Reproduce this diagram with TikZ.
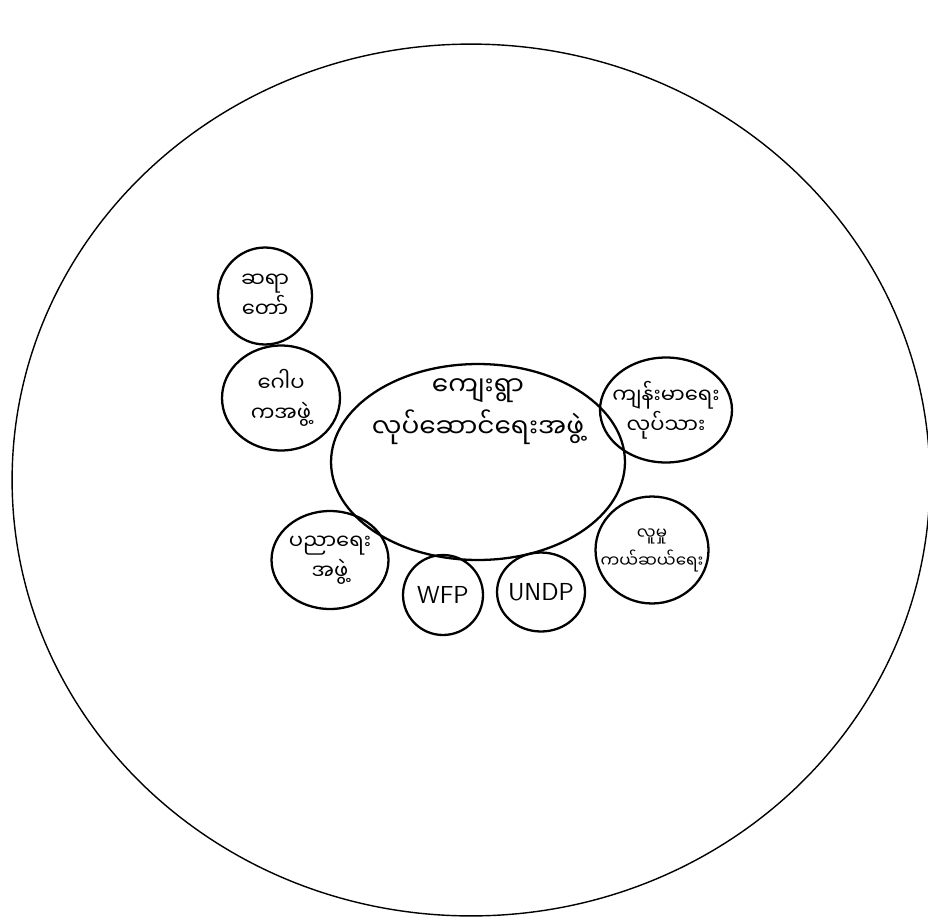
\documentclass[tikz,border=0pt]{standalone}
\usepackage{fontspec}
\newfontfamily\myan[Script=Myanmar]{Noto Sans Myanmar UI}
\usetikzlibrary{shapes.geometric}

\begin{document}
\begin{tikzpicture}[
  x=0.02cm, y=-0.02cm,
  group/.style={draw, ellipse, line width=1.3pt, inner sep=0pt},
  txt/.style={label={[font=\myan\fontsize{12}{17}\selectfont, align=center]center:#1}},
  snug/.style={label={[font=\myan\fontsize{9.5}{16}\selectfont, align=center]center:#1}},
  agency/.style={label={[font=\sffamily\fontsize{14}{16}\selectfont]center:#1}},
]
  \useasboundingbox (0,0) rectangle (928,919);

  % Village
  \draw[line width=0.8pt] (471,480) ellipse [x radius=9.18cm, y radius=8.72cm];

  % Centre
  \node[group, minimum width=5.88cm, minimum height=3.92cm,
        label={[font=\myan\fontsize{15}{24}\selectfont, align=center, yshift=1.0cm]center:ကျေးရွာ\\လုပ်ဆောင်ရေးအဖွဲ့}]
        (vdc) at (478,462) {};

  % Groups round it
  \node[group, minimum width=1.88cm, minimum height=1.94cm, txt={ဆရာ\\တော်}]           (monk)   at (265,296) {};
  \node[group, minimum width=2.36cm, minimum height=2.1cm,  txt={ဂေါပ\\ကအဖွဲ့}]        (gopaka) at (281,398) {};
  \node[group, minimum width=2.64cm, minimum height=2.1cm,  txt={ကျန်းမာရေး\\လုပ်သား}]  (health) at (666,410) {};
  \node[group, minimum width=2.26cm, minimum height=2.14cm, snug={လူမှု\\ကယ်ဆယ်ရေး}]   (social) at (652,550) {};
  \node[group, minimum width=2.34cm, minimum height=1.96cm, txt={ပညာရေး\\အဖွဲ့}]        (educ)   at (330,560) {};
  \node[group, minimum width=1.6cm,  minimum height=1.6cm,  agency=WFP]  (wfp)  at (443,595) {};
  \node[group, minimum width=1.76cm, minimum height=1.58cm, agency=UNDP] (undp) at (541,592) {};
\end{tikzpicture}
\end{document}
